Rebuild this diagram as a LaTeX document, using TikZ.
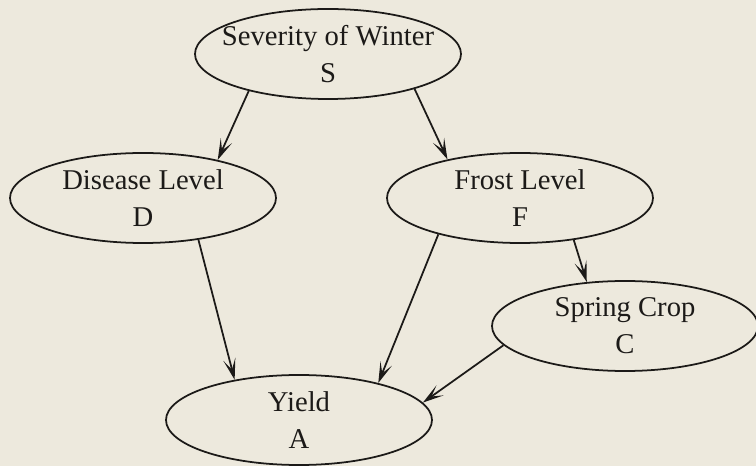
\documentclass[tikz,border=0pt]{standalone}
\usepackage{fontspec}
\setmainfont{Liberation Serif}
\usetikzlibrary{arrows.meta,shapes.geometric}

\definecolor{paper}{RGB}{237,233,221}
\definecolor{ink}{RGB}{28,26,24}

\tikzset{every picture/.style={line width=1pt}}
\tikzset{var/.style={ellipse,draw=ink,text=ink,align=center,
    inner xsep=-0.3cm,inner ysep=0pt,
    minimum width=5.32cm,minimum height=1.8cm}}

\begin{document}
\begin{tikzpicture}[->,>={Stealth[length=12pt,width=7pt,inset=6pt]},font=\fontsize{16.3}{21}\selectfont]
                      \fill[paper] (0,0) rectangle (15.12,9.32);
                      \useasboundingbox (0,0) rectangle (15.12,9.32);
                      \node[var] (S) at (6.56,8.24) {Severity of Winter\\S};
                      \node[var] (D) at (2.86,5.36) {Disease Level\\D};
                      \node[var] (F) at (10.40,5.36) {Frost Level\\F};
                      \node[var] (C) at (12.50,2.80) {Spring Crop\\C};
                      \node[var] (A) at (5.98,0.92) {Yield\\A};
                      \draw[ink] (S.205)--(D.27);
                      \draw[ink] (S.338)--(F.152);
                      \draw[ink] (D.323)--(A.148);
                      \draw[ink] (F.204)--(A.25);
                      \draw[ink] (F.322)--(C.131);
                      \draw[ink] (C.189)--(A.8);
                  \end{tikzpicture}
\end{document}
